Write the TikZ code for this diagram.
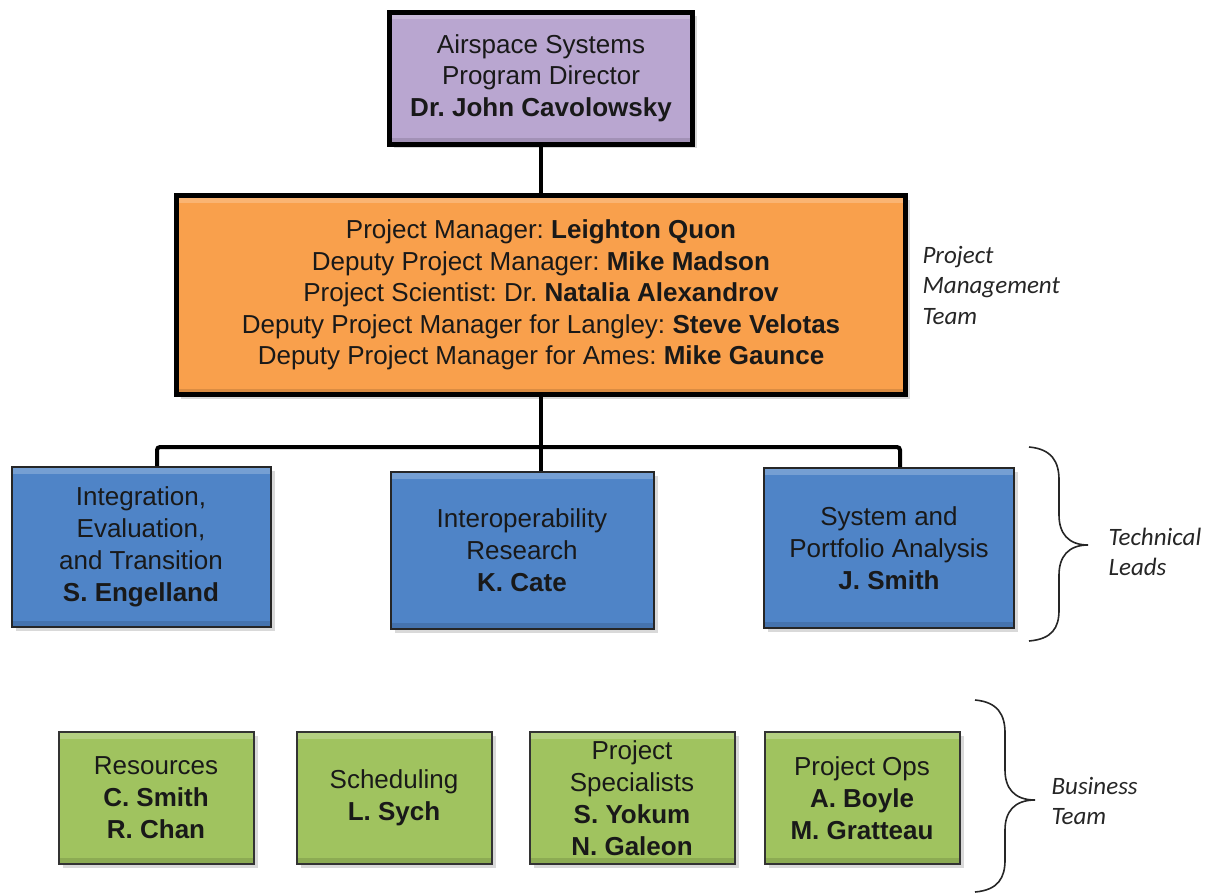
\documentclass[tikz,border=0pt]{standalone}
\usepackage{fontspec}
\setmainfont{Liberation Sans}
\newfontfamily\notefont{Carlito}
\usetikzlibrary{shadows}
\frenchspacing

\definecolor{dirpurple}{HTML}{B9A6D0}
\definecolor{pmorange}{HTML}{F9A04C}
\definecolor{leadblue}{HTML}{4F84C7}
\definecolor{teamgreen}{HTML}{A0C35F}

\tikzset{
  box/.style={rectangle, align=center, inner sep=0pt, text=black!90,
    font=\fontsize{26}{32}\selectfont,
    drop shadow={shadow xshift=4pt, shadow yshift=-4pt, opacity=0.3},
    path picture={
      \fill[white, opacity=0.22] (path picture bounding box.north west) rectangle ([yshift=-7pt]path picture bounding box.north east);
      \fill[black, opacity=0.12] (path picture bounding box.south west) rectangle ([yshift=6pt]path picture bounding box.south east);
    }},
  headbox/.style={box, draw=black, line width=5pt, font=\fontsize{26}{31.5}\selectfont},
  leadbox/.style={box, fill=leadblue, draw=black!85, line width=2pt, minimum width=259pt, minimum height=160pt},
  teambox/.style={box, fill=teamgreen, draw=black!80, line width=2pt, minimum width=195pt, minimum height=132pt},
  link/.style={draw=black, line width=4pt, rounded corners=3pt},
  brace/.style={draw=black!85, line width=1.6pt},
  note/.style={font=\notefont\itshape\fontsize{25}{30.5}\selectfont, align=left, anchor=west, text=black!85}
}

\begin{document}
\begin{tikzpicture}[x=1pt, y=-1pt]
  \useasboundingbox (0,0) rectangle (1214,894);

  %direttore in alto
  \node[headbox, fill=dirpurple, minimum width=303pt, minimum height=132pt] (director) at (541,78)
    {Airspace Systems\\Program Director\\\textbf{Dr. John Cavolowsky}};

  %gruppo di gestione del progetto
  \node[headbox, fill=pmorange, minimum width=729pt, minimum height=199pt] (pm) at (541,295)
    {Project Manager: \textbf{Leighton Quon}\\
     Deputy Project Manager: \textbf{Mike Madson}\\
     Project Scientist: Dr. \textbf{Natalia Alexandrov}\\
     Deputy Project Manager for Langley: \textbf{Steve Velotas}\\
     Deputy Project Manager for Ames: \textbf{Mike Gaunce}};

  %responsabili tecnici
  \node[leadbox] (iet) at (141,547) {Integration,\\Evaluation,\\and Transition\\\textbf{S. Engelland}};
  \node[leadbox, minimum width=263pt, minimum height=157pt] (ior) at (522,550) {Interoperability\\Research\\\textbf{K. Cate}};
  \node[leadbox, minimum width=250pt] (spa) at (889,548) {System and\\Portfolio Analysis\\\textbf{J. Smith}};

  %gruppo amministrativo
  \node[teambox] (res) at (156,798) {Resources\\\textbf{C. Smith}\\\textbf{R. Chan}};
  \node[teambox] (sched) at (394,798) {Scheduling\\\textbf{L. Sych}};
  \node[teambox, minimum width=205pt] (spec) at (632,798) {Project\\Specialists\\\textbf{S. Yokum}\\\textbf{N. Galeon}};
  \node[teambox] (ops) at (862,798) {Project Ops\\\textbf{A. Boyle}\\\textbf{M. Gratteau}};

  %etichette a destra
  \node[note] (pmteam) at (919,285) {Project\\Management\\Team};
  \node[note] (techleads) at (1105,552) {Technical\\Leads};
  \node[note] (bizteam) at (1048,801) {Business\\Team};

  %Archi
  \coordinate (busL) at (157,447);
  \coordinate (busR) at (900,447);
  \draw[link] (director.south) -- (pm.north);
  \draw[link] (pm.south) -- (pm.south |- busL);
  \draw[link] (pm.south |- busL) -- (pm.south |- ior.north);
  \draw[link] (busL |- iet.north) -- (busL) -- (busR) -- (busR |- spa.north);

  %parentesi graffe
  \draw[brace] (1029,447) .. controls (1052,449) and (1059,462) .. (1059,480) -- (1059,515)
    .. controls (1059,533) and (1068,545) .. (1088,545)
    .. controls (1068,545) and (1059,557) .. (1059,575) -- (1059,610)
    .. controls (1059,628) and (1052,639) .. (1029,641);
  \draw[brace] (975,700) .. controls (998,702) and (1005,715) .. (1005,733) -- (1005,770)
    .. controls (1005,788) and (1014,800) .. (1035,800)
    .. controls (1014,800) and (1005,812) .. (1005,830) -- (1005,860)
    .. controls (1005,878) and (998,890) .. (975,892);

\end{tikzpicture}
\end{document}
